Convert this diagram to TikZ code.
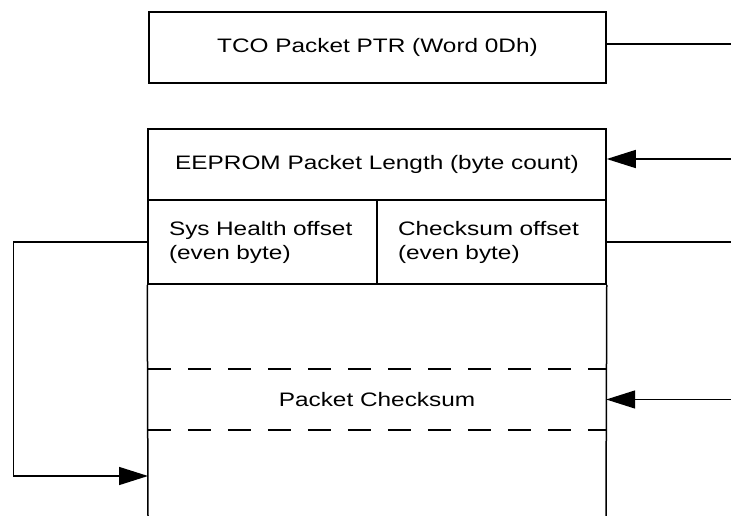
\documentclass[tikz,border=0pt]{standalone}
\usepackage{fontspec}
\setmainfont{Liberation Sans}[FakeStretch=1.25]
\usepackage{tikz}
\usetikzlibrary{arrows.meta}
\usetikzlibrary{calc}

\tikzset{
  field/.style={draw,line width=1.5pt,minimum height=71pt,minimum width=458pt,inner sep=0pt},
  half/.style={draw,line width=1.5pt,minimum height=84pt,minimum width=229pt,text width=187pt,align=left,inner sep=0pt},
  link/.style={line width=1.5pt},
  feed/.style={line width=1.5pt,-{Triangle[length=29pt,width=18pt]}}
}

\begin{document}
\begin{tikzpicture}[x=1pt,y=-1pt,font=\fontsize{19.5}{24}\selectfont]
  \useasboundingbox (0,0) rectangle (731,516);
  \node[field,minimum width=457pt] (ptr) at (377.5,47.5) {TCO Packet PTR (Word 0Dh)};
  \node[field] (len) at (377,164.5) {EEPROM Packet Length (byte count)};
  \node[half] (sys) at (262.5,242) {Sys Health offset\\(even byte)};
  \node[half] (chk) at (491.5,242) {Checksum offset\\(even byte)};
  \node[minimum height=61pt,minimum width=458pt,inner sep=0pt] (sum) at (377,399.5) {Packet Checksum};
  % open bottom of the packet
  \coordinate (bl) at (148,516);
  \coordinate (br) at (606,516);
  \draw[link] (sys.south west) -- (bl);
  \draw[link] (chk.south east) -- (br);
  \draw[link,dash pattern=on 23pt off 17pt] (sum.north west) -- (sum.north east);
  \draw[link,dash pattern=on 23pt off 17pt] (sum.south west) -- (sum.south east);
  % pointers
  \coordinate (ptrout) at (731,44);
  \coordinate (lenin) at (731,159);
  \coordinate (chkout) at (731,242);
  \coordinate (sumin) at (731,399.5);
  \coordinate (sysin) at (148,476);
  \draw[link] (ptrout -| ptr.east) -- (ptrout);
  \draw[feed] (lenin) -- (lenin -| len.east);
  \draw[link] (chk.east) -- (chkout);
  \draw[feed] (sumin) -- (sum.east);
  \draw[link] (sys.west) -- ++(-134,0) coordinate (corner);
  \draw[feed] (corner) |- (sysin);
\end{tikzpicture}
\end{document}
